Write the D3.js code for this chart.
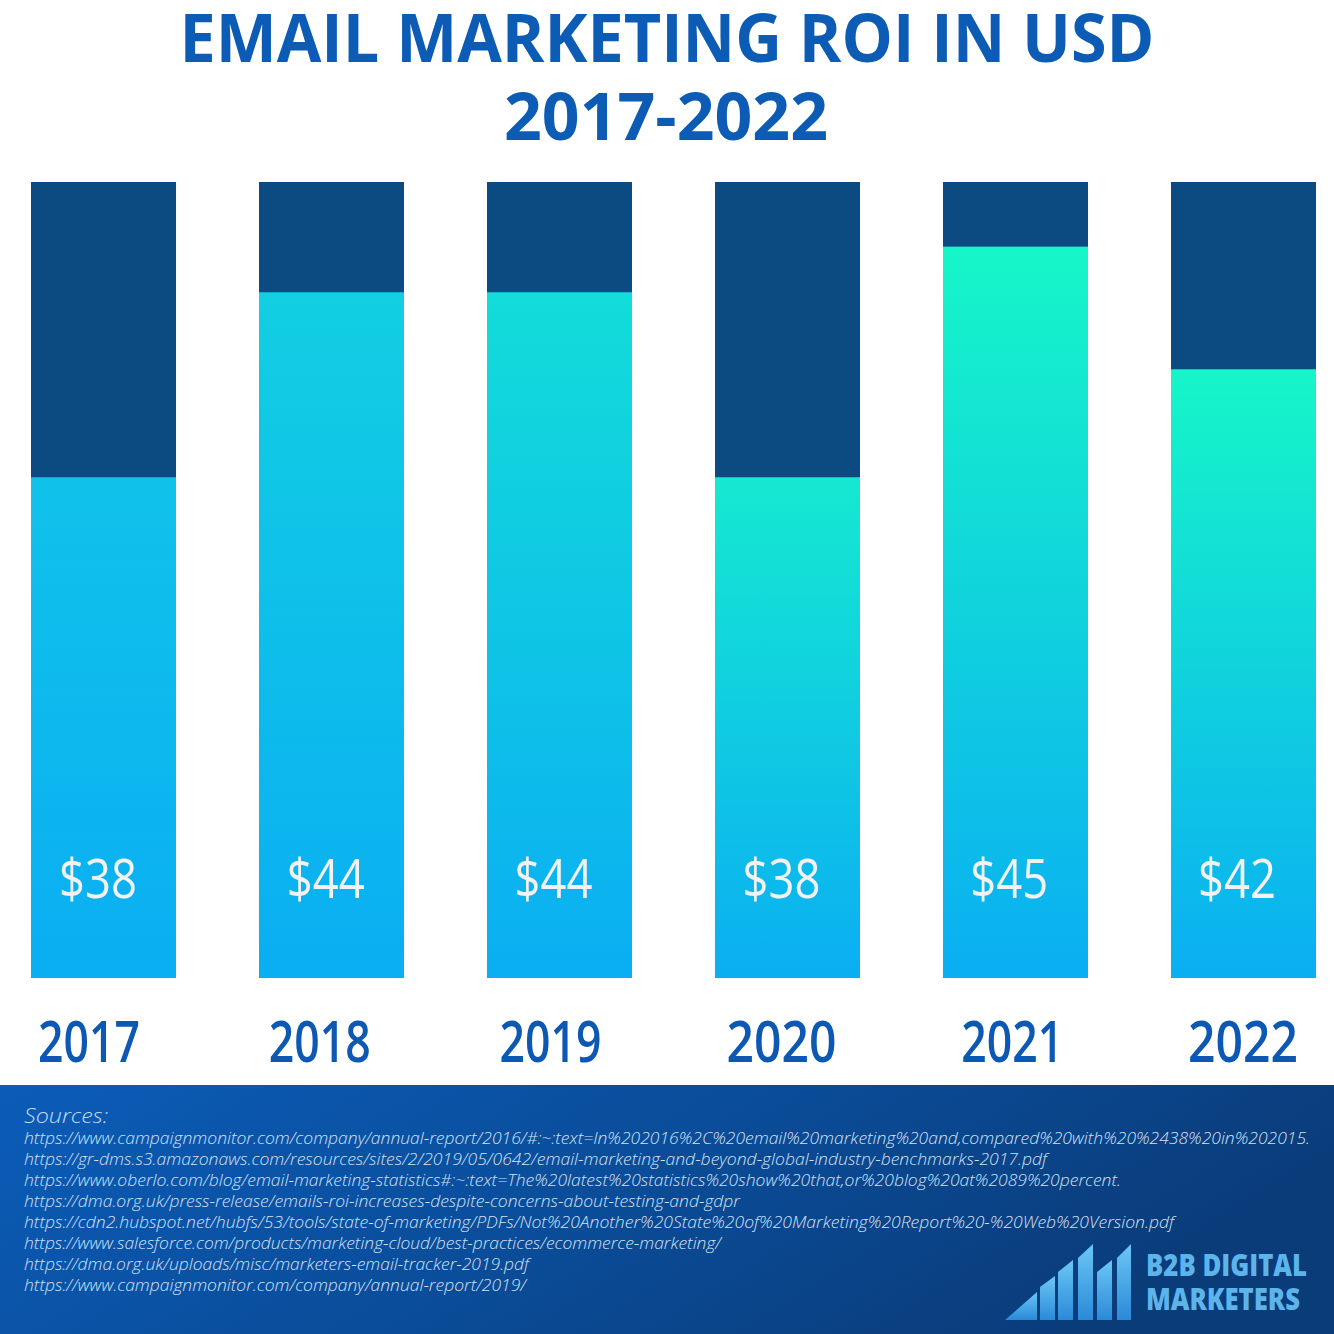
<!DOCTYPE html>
<html><head><meta charset="utf-8">
<script src="https://cdnjs.cloudflare.com/ajax/libs/d3/7.8.5/d3.min.js"></script>
<style>html,body{margin:0;padding:0;background:#fff;}svg{display:block;}</style>
</head><body>
<script>
const years = ["2017","2018","2019","2020","2021","2022"];
const roi = [38, 44, 44, 38, 45, 42];
const valueLabels = ["$38","$44","$44","$38","$45","$42"];
const titleLines = ["EMAIL MARKETING ROI IN USD", "2017-2022"];
const sourcesHeading = "Sources:";
const sources = [
 "https://www.campaignmonitor.com/company/annual-report/2016/#:~:text=In%202016%2C%20email%20marketing%20and,compared%20with%20%2438%20in%202015.",
 "https://gr-dms.s3.amazonaws.com/resources/sites/2/2019/05/0642/email-marketing-and-beyond-global-industry-benchmarks-2017.pdf",
 "https://www.oberlo.com/blog/email-marketing-statistics#:~:text=The%20latest%20statistics%20show%20that,or%20blog%20at%2089%20percent.",
 "https://dma.org.uk/press-release/emails-roi-increases-despite-concerns-about-testing-and-gdpr",
 "https://cdn2.hubspot.net/hubfs/53/tools/state-of-marketing/PDFs/Not%20Another%20State%20of%20Marketing%20Report%20-%20Web%20Version.pdf",
 "https://www.salesforce.com/products/marketing-cloud/best-practices/ecommerce-marketing/",
 "https://dma.org.uk/uploads/misc/marketers-email-tracker-2019.pdf",
 "https://www.campaignmonitor.com/company/annual-report/2019/"
];
const logoLines = ["B2B DIGITAL", "MARKETERS"];

const W = 1334, H = 1334;
const svg = d3.select("body").append("svg").attr("width", W).attr("height", H);
const defs = svg.append("defs");

// Title
const titleColor = "#0c5cb6";
const title = svg.append("g");
title.append("text").attr("x", 667).attr("y", 62).attr("text-anchor", "middle")
  .attr("font-family", "'Open Sans', sans-serif").attr("font-weight", 700).attr("font-size", 66)
  .attr("fill", titleColor).attr("textLength", 975).attr("lengthAdjust", "spacingAndGlyphs")
  .text(titleLines[0]);
title.append("text").attr("x", 666).attr("y", 140).attr("text-anchor", "middle")
  .attr("font-family", "'Open Sans', sans-serif").attr("font-weight", 700).attr("font-size", 67)
  .attr("fill", titleColor).attr("textLength", 324).attr("lengthAdjust", "spacingAndGlyphs")
  .text(titleLines[1]);

// Scales
const plotTop = 182, plotBottom = 978;
const x = d3.scaleBand().domain(years).range([31, 1316]).paddingInner(0.364).paddingOuter(0);
const y = d3.scalePow().exponent(6).domain([0, 46.25])
  .range([plotBottom - 0.4643 * (plotBottom - plotTop), plotTop]);
const topColor = d3.scaleLinear().domain([0, 4]).range(["#10c2ea", "#16f6c8"]).clamp(true);
const labelX = d3.scalePoint().domain(years).range([98, 1237]);
const yearX = d3.scalePoint().domain(years).range([89, 1243]);

years.forEach((yr, i) => {
  const g = defs.append("linearGradient").attr("id", "grad" + i)
    .attr("x1", 0).attr("y1", 1).attr("x2", 0).attr("y2", 0);
  g.append("stop").attr("offset", 0).attr("stop-color", "#0aaef2");
  g.append("stop").attr("offset", 1).attr("stop-color", topColor(i));
});

const data = years.map((yr, i) => ({ year: yr, value: roi[i], label: valueLabels[i], i }));

const bars = svg.append("g");
bars.selectAll("rect.bg").data(data).join("rect").attr("class", "bg")
  .attr("x", d => x(d.year)).attr("y", plotTop)
  .attr("width", x.bandwidth()).attr("height", plotBottom - plotTop)
  .attr("fill", "#0c4a82");
bars.selectAll("rect.val").data(data).join("rect").attr("class", "val")
  .attr("x", d => x(d.year)).attr("y", d => y(d.value))
  .attr("width", x.bandwidth()).attr("height", d => plotBottom - y(d.value))
  .attr("fill", d => `url(#grad${d.i})`);

bars.selectAll("text.vl").data(data).join("text").attr("class", "vl")
  .attr("x", d => labelX(d.year)).attr("y", 898).attr("text-anchor", "middle")
  .attr("font-family", "'Open Sans', sans-serif").attr("font-weight", 400).attr("font-size", 54)
  .attr("fill", "#f2f2f2").attr("textLength", 78).attr("lengthAdjust", "spacingAndGlyphs")
  .text(d => d.label);

// Year axis labels
svg.append("g").selectAll("text").data(data).join("text")
  .attr("x", d => yearX(d.year)).attr("y", 1062).attr("text-anchor", "middle")
  .attr("font-family", "'Open Sans', sans-serif").attr("font-weight", 600).attr("font-size", 58)
  .attr("fill", "#0c58b2").attr("textLength", d => d.year === "2020" || d.year === "2022" ? 110 : 102)
  .attr("lengthAdjust", "spacingAndGlyphs")
  .text(d => d.year);

// Footer
const fg = defs.append("linearGradient").attr("id", "footGrad")
  .attr("x1", 0).attr("y1", 0).attr("x2", 1).attr("y2", 0.3);
fg.append("stop").attr("offset", 0).attr("stop-color", "#0b5cb8");
fg.append("stop").attr("offset", 0.55).attr("stop-color", "#0a4c98");
fg.append("stop").attr("offset", 1).attr("stop-color", "#0a3c7a");
svg.append("rect").attr("x", 0).attr("y", 1085).attr("width", W).attr("height", H - 1085)
  .attr("fill", "url(#footGrad)");

svg.append("text").attr("x", 24).attr("y", 1123)
  .attr("font-family", "'Open Sans', sans-serif").attr("font-style", "italic").attr("font-weight", 300)
  .attr("font-size", 21).attr("fill", "#c9d9f0").attr("textLength", 84).attr("lengthAdjust", "spacingAndGlyphs")
  .text(sourcesHeading);

const srcWidths = [1286, 1023, 1097, 716, 1150, 697, 505, 502];
svg.append("g").selectAll("text").data(sources).join("text")
  .attr("x", 24).attr("y", (d, i) => 1144 + i * 21)
  .attr("font-family", "'Open Sans', sans-serif").attr("font-style", "italic").attr("font-weight", 300)
  .attr("font-size", 16).attr("fill", "#d4e1f4")
  .attr("textLength", (d, i) => srcWidths[i]).attr("lengthAdjust", "spacingAndGlyphs")
  .text(d => d);

// Logo
const lg = defs.append("linearGradient").attr("id", "logoGrad")
  .attr("x1", 0).attr("y1", 0).attr("x2", 0).attr("y2", 1);
lg.append("stop").attr("offset", 0).attr("stop-color", "#6cc6f6");
lg.append("stop").attr("offset", 1).attr("stop-color", "#2a8ad8");
const logo = svg.append("g").attr("transform", "translate(1005,1320)");
const shapes = [
  [[0,0],[32,-28],[32,0]],
  [[35,0],[35,-33],[50,-44],[50,0]],
  [[53,0],[53,-48],[68,-60],[68,0]],
  [[73,0],[73,-62],[88,-76],[88,0]],
  [[92,0],[92,-48],[107,-60],[107,0]],
  [[112,0],[112,-62],[126,-76],[126,0]]
];
logo.selectAll("polygon").data(shapes).join("polygon")
  .attr("points", d => d.map(p => p.join(",")).join(" "))
  .attr("fill", "url(#logoGrad)");
svg.append("g").selectAll("text").data(logoLines).join("text")
  .attr("x", 1146).attr("y", (d, i) => 1276 + i * 34)
  .attr("font-family", "'Open Sans', sans-serif").attr("font-weight", 800).attr("font-size", 30)
  .attr("fill", "#5db4ea").attr("textLength", (d, i) => i === 0 ? 161 : 154)
  .attr("lengthAdjust", "spacingAndGlyphs")
  .text(d => d);
</script>
</body></html>
